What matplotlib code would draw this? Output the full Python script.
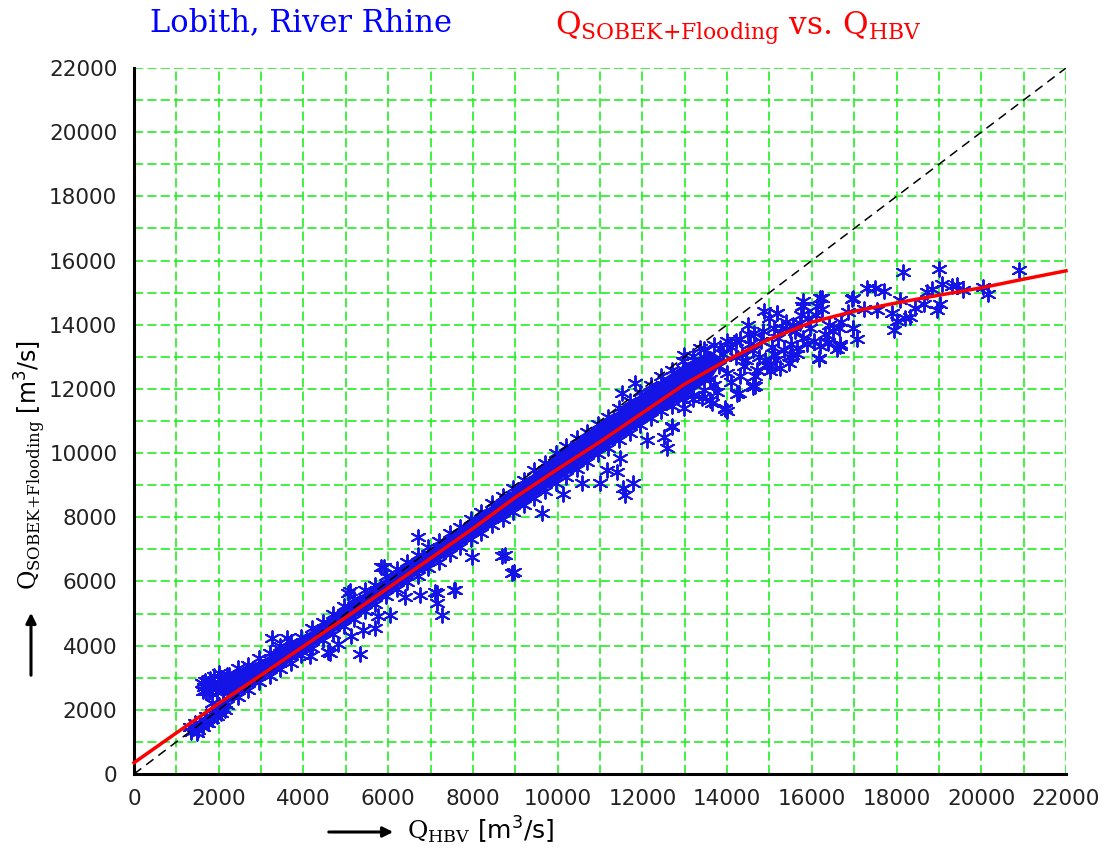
import numpy as np
import matplotlib
matplotlib.use("Agg")
import matplotlib.pyplot as plt

plt.rcParams['mathtext.fontset'] = 'custom'
plt.rcParams['mathtext.rm'] = 'DejaVu Serif'
plt.rcParams['mathtext.sf'] = 'DejaVu Sans'
plt.rcParams['mathtext.it'] = 'DejaVu Serif:italic'

# dense core of the point cloud, Q_HBV vs Q_SOBEK
core_x = [2200, 2500, 3000, 3500, 4000, 4500, 5000, 6000, 7000, 8000, 9000, 10000, 11000, 12000, 13000, 13600, 13900]
core_hi = [3050, 3270, 3570, 3920, 4320, 4770, 5270, 6170, 7070, 7970, 8920, 10020, 10920, 11900, 12800, 13200, 12950]
core_lo = [2200, 2480, 2930, 3330, 3780, 4230, 4680, 5630, 6480, 7380, 8230, 9130, 10030, 10930, 11750, 12300, 12900]

# points along the upper edge of the cloud
top_x = [2200, 2450, 2700, 2950, 3200, 3450, 3700, 3950, 4200, 4450, 4700, 4950, 5200, 5450,
         5700, 5950, 6200, 6450, 6700, 6950, 7200, 7450, 7700, 7950, 8200, 8450, 8700, 8950,
         9200, 9450, 9700, 9950, 10200, 10450, 10700, 10950, 11200, 11450, 11700, 11950,
         12200, 12450, 12700, 12950, 13200, 13450, 13700]
top_y = [3080, 3300, 3400, 3600, 3760, 3900, 4120, 4280, 4540, 4730, 4980, 5230, 5460, 5720,
         5900, 6170, 6380, 6620, 6810, 7060, 7260, 7520, 7700, 7960, 8170, 8440, 8650, 8920,
         9150, 9460, 9700, 9990, 10210, 10460, 10660, 10920, 11130, 11420, 11630, 11900,
         12120, 12390, 12600, 12870, 13020, 13240, 13380]

# points along the lower edge of the cloud
bot_x = top_x
bot_y = [2150, 2400, 2620, 2870, 3060, 3280, 3470, 3720, 3920, 4170, 4370, 4620, 4830, 5090,
         5300, 5560, 5760, 5990, 6180, 6420, 6620, 6860, 7070, 7310, 7510, 7750, 7940, 8170,
         8370, 8610, 8820, 9060, 9270, 9510, 9720, 9960, 10170, 10410, 10620, 10860,
         11090, 11310, 11460, 11670, 11810, 11980, 12110]

# low-flow part: lower strip and upper blob
low_x = [1350, 1420, 1500, 1550, 1620, 1680, 1750, 1800, 1850, 1900, 1950, 2000, 2050, 2100,
         2150, 1840, 1450, 1700, 2000, 2100, 1320, 1490,
         1600, 1650, 1700, 1750, 1800, 1850, 1900, 1950, 2000, 2050, 2100, 2150, 2200, 1680,
         1900, 2000, 1620, 1780, 2250, 2250]
low_y = [1300, 1450, 1380, 1550, 1480, 1650, 1600, 1750, 1700, 1850, 1800, 1950, 1900, 2050,
         2000, 2220, 1600, 1800, 2150, 2250, 1460, 1280,
         2850, 2700, 2600, 2800, 2950, 2650, 2850, 2550, 2750, 3000, 2600, 2850, 2700, 2900,
         3050, 3150, 2580, 2550, 2550, 3100]

# scattered points away from the main band
out_x = [3250, 3600, 3450, 4620, 4820, 5330, 5130, 5410, 5680, 5760, 5090, 5840, 4150, 4580,
         6750, 7150, 7150, 7260, 7580, 6040, 8920, 8760, 6710, 8680, 8970, 7970, 9620, 10130,
         10570, 11000, 11550, 11590, 11790, 11160, 11390, 11470, 12100, 12500, 12580, 12690,
         11830, 11510, 13950, 14270, 14620, 13600, 13200, 5890, 5060, 7100, 7560, 6400]
out_y = [4250, 4250, 3990, 3780, 4040, 3730, 4300, 4500, 4560, 4920, 5690, 6460, 3680, 3810,
         5580, 5630, 5320, 4950, 5730, 4950, 6260, 6820, 7400, 6790, 6300, 6770, 8120, 8720,
         9080, 9060, 8900, 8690, 9060, 9470, 9420, 9840, 10410, 10510, 10150, 10820,
         12170, 11860, 11390, 11860, 12120, 11650, 11700, 6460, 5630, 5680, 5740, 5530]

# high-flow tail
high_x = [15800, 16240, 16120, 16940, 14860, 15180, 15800, 16160, 16390, 16670, 16630, 16980,
          15530, 15650, 15880, 15250, 15020, 14670, 14240, 13960, 13650, 13410, 12980, 12710,
          14000, 13370, 12980, 15100, 15490, 15730, 14310, 14630, 13840, 14000,
          14200, 14400, 14600, 14800, 14300, 14900, 15200, 15500, 15100, 14500, 15400, 14100,
          14700, 15600, 15900, 16100, 16400, 16300, 15800,
          18150, 19000, 20900, 19070, 19300, 19420, 20050, 20150, 18720, 18830, 19580, 17300,
          17500, 17700, 16970, 18090, 17890, 18010, 18200, 18320, 17930, 18440, 18640, 18950,
          19030, 17220, 17540, 17060, 16980, 16200, 15760, 16160, 16590, 16670, 16390, 16200,
          15170, 14620, 15020, 15490,
          13800, 13900, 14000, 14100, 14200, 14350, 14450, 14550, 14650, 14750, 14850, 14950,
          15050, 15150, 15300, 15350, 15450, 15550, 15650, 15750, 15950, 16050, 16250, 16500,
          16700, 16850, 13600, 13750, 14500, 15000]
high_y = [14730, 14840, 14580, 14790, 14420, 14370, 14580, 12970, 13440, 13330, 13900, 13900,
          13070, 13280, 13390, 12660, 12760, 12090, 11830, 11360, 11570, 11730, 11410, 10840,
          11310, 13280, 13070, 13900, 13850, 14060, 13540, 13750, 13280, 13490,
          13000, 12700, 13200, 13500, 12400, 12900, 13600, 13400, 13100, 13700, 14100, 13300,
          12600, 13800, 14200, 14300, 14000, 13700, 13600,
          15650, 15750, 15720, 15280, 15200, 15230, 15170, 14970, 15030, 15100, 15070, 15130,
          15130, 15050, 14840, 14760, 14380, 14120, 14200, 14240, 13830, 14530, 14650, 14450,
          14650, 14480, 14450, 13550, 13910, 14840, 14580, 12930, 13240, 13400, 13450, 13340,
          14380, 12050, 12570, 12980,
          12700, 13100, 12500, 12200, 13500, 13100, 12900, 13400, 12400, 13000, 13800, 12700,
          13300, 12900, 13900, 13200, 12800, 14000, 13100, 14300, 13900, 13500, 14500, 13800,
          14100, 14400, 12300, 11900, 14000, 14200]

# fitted relation (red line)
fit_x = [0, 1000, 2000, 3000, 4000, 5000, 6000, 7000, 8000, 9000, 10000, 11000,
         12000, 13000, 14000, 15000, 16000, 17000, 18000, 19000, 20000, 21000, 22000]
fit_y = [350, 1280, 2200, 3080, 3980, 4880, 5800, 6720, 7650, 8620, 9500, 10350,
         11250, 12150, 12900, 13550, 14080, 14420, 14680, 14920, 15150, 15420, 15680]

blue = '#1414e6'
green = '#22ee22'

fig = plt.figure(figsize=(11.08, 8.5), dpi=100)
ax = fig.add_axes([134 / 1108, 76 / 850, 932 / 1108, 706 / 850])

ax.set_xlim(0, 22000)
ax.set_ylim(0, 22000)
ax.set_xticks(np.arange(0, 22001, 1000), minor=True)
ax.set_yticks(np.arange(0, 22001, 1000), minor=True)
ax.set_xticks(np.arange(0, 22001, 2000))
ax.set_yticks(np.arange(0, 22001, 2000))
ax.grid(True, which='both', color=green, linestyle=(0, (5.5, 2.5)), linewidth=1.2)
ax.set_axisbelow(True)
ax.tick_params(which='both', length=0)
ax.tick_params(axis='y', pad=12, labelsize=15.5, labelcolor='#222222')
ax.tick_params(axis='x', pad=11, labelsize=15.5, labelcolor='#222222')
for s in ['top', 'right']:
    ax.spines[s].set_visible(False)
for s in ['left', 'bottom']:
    ax.spines[s].set_linewidth(2.2)
    ax.spines[s].set_zorder(5)

ax.fill_between(core_x, core_lo, core_hi, color=blue, linewidth=0, zorder=2)
mk = dict(marker=(6, 2, 0), s=110, color=blue, linewidths=1.4, zorder=3)
ax.scatter(top_x, top_y, **mk)
ax.scatter(bot_x, bot_y, **mk)
ax.scatter(low_x, low_y, **mk)
ax.scatter(out_x, out_y, **mk)
ax.scatter(high_x, high_y, **mk)

ax.plot([0, 22000], [0, 22000], color='black', linestyle=(0, (6, 4)), linewidth=1.1, zorder=4)
ax.plot(fit_x, fit_y, color='red', linewidth=2.5, zorder=6, clip_on=False)

# titles
fig.text(150 / 1108, 1 - 23 / 850, 'Lobith, River Rhine', color='blue',
         family='DejaVu Serif', fontsize=22, va='center', ha='left')
fig.text(555 / 1108, 1 - 28 / 850,
         r'$\mathrm{Q}_{\mathrm{SOBEK{+}Flooding}}$ vs. $\mathrm{Q}_{\mathrm{HBV}}$',
         color='red', family='DejaVu Serif', fontsize=22.5, va='center', ha='left')

# axis labels with arrows
fig.text(30 / 1108, 1 - 465 / 850,
         r'$\mathrm{Q}_{\mathrm{SOBEK{+}Flooding}}\ \mathsf{[m^3/s]}$',
         rotation=90, family='DejaVu Serif', fontsize=17, va='center', ha='center')
fig.text(407 / 1108, 1 - 830 / 850, r'$\mathrm{Q}_{\mathrm{HBV}}\ \mathsf{[m^3/s]}$',
         family='DejaVu Serif', fontsize=18, va='center', ha='left')
fig.patches.append(matplotlib.patches.FancyArrowPatch(
    (31 / 1108, 1 - 678 / 850), (31 / 1108, 1 - 610 / 850), transform=fig.transFigure,
    arrowstyle='-|>,head_length=6,head_width=3', color='black', linewidth=2.2))
fig.patches.append(matplotlib.patches.FancyArrowPatch(
    (326 / 1108, 1 - 832 / 850), (396 / 1108, 1 - 832 / 850), transform=fig.transFigure,
    arrowstyle='-|>,head_length=6,head_width=3', color='black', linewidth=2.2))

fig.savefig('out.png', dpi=100)
